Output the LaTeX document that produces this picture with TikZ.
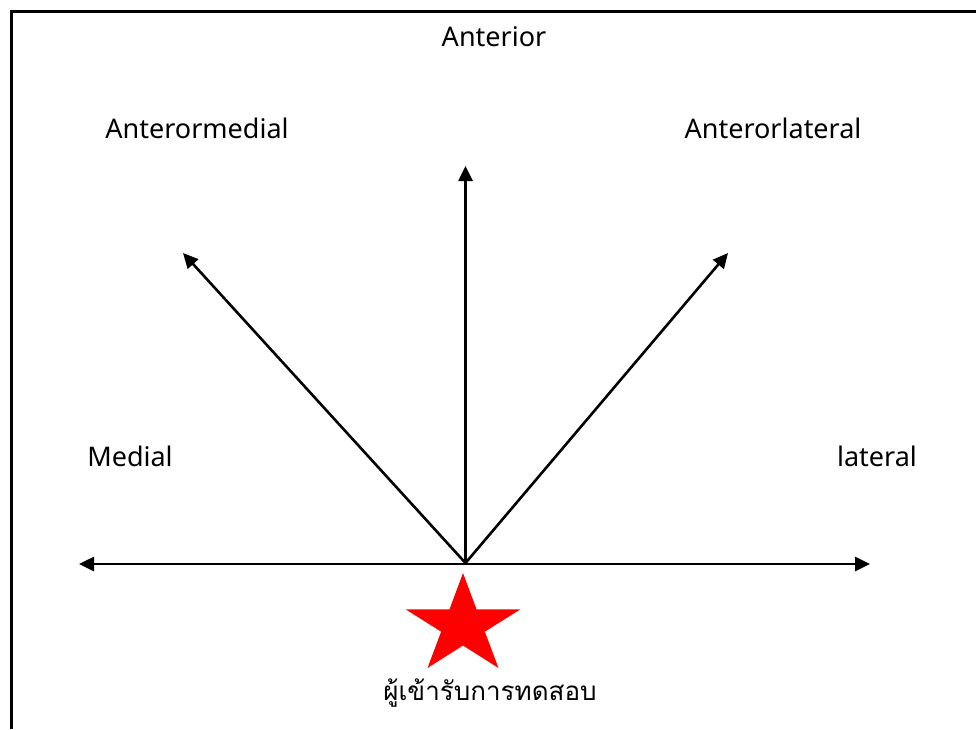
\documentclass[tikz,border=0pt]{standalone}
\usepackage{fontspec}
\setmainfont{Noto Sans}
\newfontfamily\thaifont[Script=Thai]{Loma}
\usetikzlibrary{arrows.meta}
\begin{document}
\begin{tikzpicture}[x=1pt,y=-1pt,
  tip/.tip={Triangle[length=15pt,width=14pt]},
  dirarrow/.style={line width=2.6pt,-tip},
  lbl/.style={font=\fontsize{27}{30}\selectfont,inner sep=0pt},
  frameline/.style={line width=3pt}]
\useasboundingbox (0,0) rectangle (976,729);
\fill[white] (0,0) rectangle (976,729);
\draw[frameline] (11.5,729) -- (11.5,11) -- (976,11);
\coordinate (o) at (465.5,563);
\coordinate (ant) at (465.5,166);
\coordinate (am) at (183,253);
\coordinate (al) at (728,253);
\coordinate (med) at (79,564);
\coordinate (lat) at (870,564);
\draw[dirarrow] (o) -- (ant);
\draw[dirarrow] (o) -- (am);
\draw[dirarrow] (o) -- (al);
\draw[line width=2.6pt,tip-tip] (med) -- (lat);
\node[lbl] (tAnt) at (494,37) {Anterior};
\node[lbl] (tAm) at (197,128) {Anterormedial};
\node[lbl] (tAl) at (773,128) {Anterorlateral};
\node[lbl] (tMed) at (130,456) {Medial};
\node[lbl] (tLat) at (877,456) {lateral};
\fill[red,shift={(463,625.5)},xscale=1.15]
  (90:-52.5) -- (126:-20) -- (162:-52.5) -- (198:-20) -- (234:-52.5) -- (270:-20) -- (306:-52.5) -- (342:-20) -- (18:-52.5) -- (54:-20) -- cycle;
\node[inner sep=0pt,font=\thaifont\fontsize{26}{30}\selectfont] (tSubj) at (490,693) {ผู้เข้ารับการทดสอบ};
\end{tikzpicture}
\end{document}
